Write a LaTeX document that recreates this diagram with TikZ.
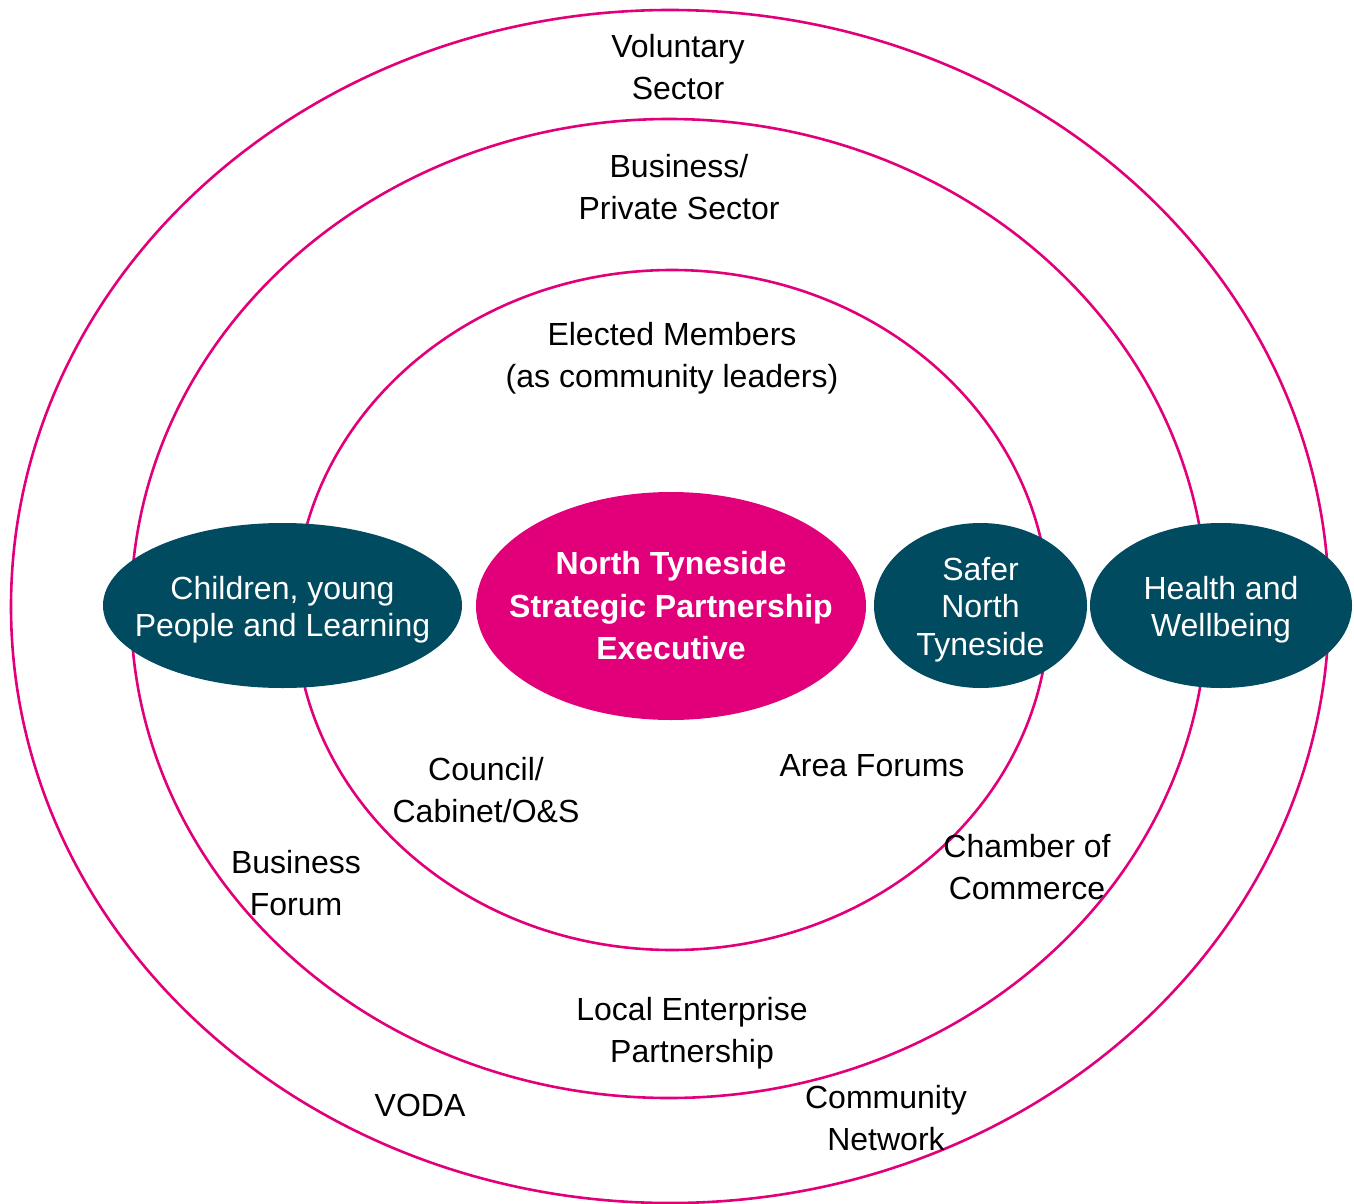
\documentclass[tikz,border=0pt]{standalone}
\usepackage{fontspec}
\setmainfont{Liberation Sans}
\usepackage{tikz}
\usetikzlibrary{shapes,arrows}
\definecolor{ntpink}{HTML}{E2007A}
\definecolor{ntteal}{HTML}{004B60}
\tikzstyle{ring} = [draw=ntpink, line width=2.6pt, ellipse, inner sep=0pt]
\tikzstyle{group} = [fill=ntteal, ellipse, inner sep=0pt]
\tikzstyle{grouptext} = [text=white, align=center, font=\fontsize{32}{37.5}\selectfont]
\tikzstyle{core} = [fill=ntpink, ellipse, inner sep=0pt]
\tikzstyle{coretext} = [text=white, align=center, font=\fontsize{32}{42.5}\selectfont\bfseries]
\tikzstyle{lbl} = [align=center, font=\fontsize{32}{42.5}\selectfont]

\begin{document}
\begin{tikzpicture}[x=1pt,y=-1pt]
\useasboundingbox (0,0) rectangle (1354,1204);

% rings
\node[ring, minimum width=1318pt, minimum height=1193pt] (outer) at (670,606.5) {};
\node[ring, minimum width=1076pt, minimum height=979pt] (middle) at (669,608.5) {};
\node[ring, minimum width=754pt, minimum height=680pt] (inner) at (672,610) {};

% partnerships
\node[core, minimum width=390pt, minimum height=228pt] (exec) at (671,606) {};
\node[coretext] at (exec) {North Tyneside\\Strategic Partnership\\Executive};
\node[group, minimum width=359pt, minimum height=165pt] (children) at (282.5,605.5) {};
\node[grouptext] at ([yshift=-4pt]children) {Children, young\\People and Learning};
\node[group, minimum width=213pt, minimum height=165pt] (safer) at (980.5,605.5) {};
\node[grouptext] at ([yshift=-4pt]safer) {Safer\\North\\Tyneside};
\node[group, minimum width=262pt, minimum height=165pt] (health) at (1221,605.5) {};
\node[grouptext] at ([yshift=-4pt]health) {Health and\\Wellbeing};

% labels
\node[lbl] (voluntary) at (678,67) {Voluntary\\Sector};
\node[lbl] (business) at (679,187) {Business/\\Private Sector};
\node[lbl] (elected) at (672,358) {Elected Members\\(as community leaders)};
\node[lbl] (council) at (486,790) {Council/\\Cabinet/O\&S};
\node[lbl] (area) at (872,766) {Area Forums};
\node[lbl] (chamber) at (1027,867) {Chamber of\\Commerce};
\node[lbl] (bforum) at (296,883) {Business\\Forum};
\node[lbl] (lep) at (692,1033) {Local Enterprise\\Partnership};
\node[lbl] (voda) at (420,1105) {VODA};
\node[lbl] (community) at (886,1118) {Community\\Network};
\end{tikzpicture}
\end{document}
